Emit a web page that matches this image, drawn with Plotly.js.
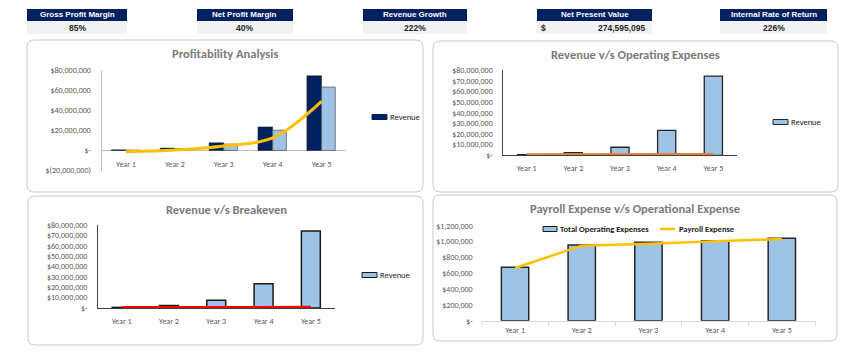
<!DOCTYPE html>
<html><head><meta charset="utf-8">
<script src="https://cdn.plot.ly/plotly-3.0.1.min.js"></script>
<style>html,body{margin:0;padding:0;background:#fff}#chart{width:850px;height:355px}</style>
</head><body><div id="chart"></div>
<script>
// ---- data ----
const years = ['Year 1','Year 2','Year 3','Year 4','Year 5'];
const revenue = [600000, 2400000, 7600000, 23500000, 74500000];
const grossProfit = [400000, 1900000, 6300000, 20200000, 63300000];
const netProfit = [-1300000, 400000, 4500000, 12500000, 49000000];
const operatingExpenses = [675000, 955000, 990000, 1010000, 1042000];
const breakeven = [700000, 800000, 850000, 870000, 900000];
const payrollExpense = [665000, 948000, 972000, 1000000, 1033000];

const kpiLabels = ['Gross Profit Margin','Net Profit Margin','Revenue Growth','Net Present Value','Internal Rate of Return'];
const kpiValues = ['85%','40%','222%','274,595,095','226%'];

const p1TickVals = [-20000000, 0, 20000000, 40000000, 60000000, 80000000];
const p1TickText = ['$(20,000,000)','$-','$20,000,000','$40,000,000','$60,000,000','$80,000,000'];
const p2TickVals = [0,10000000,20000000,30000000,40000000,50000000,60000000,70000000,80000000];
const p2TickText = ['$-','$10,000,000','$20,000,000','$30,000,000','$40,000,000','$50,000,000','$60,000,000','$70,000,000','$80,000,000'];
const p4TickVals = [0,200000,400000,600000,800000,1000000,1200000];
const p4TickText = ['$-','$200,000','$400,000','$600,000','$800,000','$1,000,000','$1,200,000'];

// ---- helpers ----
const W = 850, H = 355;
const X = v => v / W, Y = v => 1 - v / H;
const FONT = "Carlito, Calibri, 'Liberation Sans Narrow', 'Liberation Sans', sans-serif";
const KFONT = "'Liberation Sans', Arial, sans-serif";
const NAVY = '#002060', LBLUE = '#9dc3e6', YEL = '#ffc000';
const TICKC = '#595959';

function rrect(x0, y0, x1, y1, r) {
  return `M${X(x0+r)},${Y(y0)} L${X(x1-r)},${Y(y0)} Q${X(x1)},${Y(y0)} ${X(x1)},${Y(y0+r)} ` +
         `L${X(x1)},${Y(y1-r)} Q${X(x1)},${Y(y1)} ${X(x1-r)},${Y(y1)} L${X(x0+r)},${Y(y1)} ` +
         `Q${X(x0)},${Y(y1)} ${X(x0)},${Y(y1-r)} L${X(x0)},${Y(y0+r)} Q${X(x0)},${Y(y0)} ${X(x0+r)},${Y(y0)} Z`;
}

const traces = [
  // Panel 1
  {type:'bar', x: years, y: revenue, name:'Revenue', xaxis:'x', yaxis:'y', offset:-0.3, width:0.3,
   marker:{color:NAVY, line:{color:'#1f1f1f', width:0.5}}},
  {type:'bar', x: years, y: grossProfit, name:'Gross Profit', xaxis:'x', yaxis:'y', offset:0, width:0.28,
   marker:{color:LBLUE, line:{color:'#595959', width:0.75}}},
  {type:'scatter', mode:'lines', x: years, y: netProfit, name:'Net Profit', xaxis:'x', yaxis:'y',
   line:{color:YEL, width:3, shape:'spline', smoothing:1}},
  // Panel 2
  {type:'bar', x: years, y: revenue, name:'Revenue', xaxis:'x2', yaxis:'y2', offset:-0.195, width:0.39,
   marker:{color:LBLUE, line:{color:'#262626', width:1.3}}},
  {type:'scatter', mode:'lines', x: years, y: operatingExpenses, name:'Operating Expenses', xaxis:'x2', yaxis:'y2',
   line:{color:'#ed7d31', width:2.5}},
  // Panel 3
  {type:'bar', x: years, y: revenue, name:'Revenue', xaxis:'x3', yaxis:'y3', offset:-0.2, width:0.4,
   marker:{color:LBLUE, line:{color:'#1a1a1a', width:1.5}}},
  {type:'scatter', mode:'lines', x: years, y: breakeven, name:'Breakeven', xaxis:'x3', yaxis:'y3',
   line:{color:'#ff0000', width:2.5}},
  // Panel 4
  {type:'bar', x: years, y: operatingExpenses, name:'Total Operating Expenses', xaxis:'x4', yaxis:'y4', offset:-0.205, width:0.41,
   marker:{color:LBLUE, line:{color:'#262626', width:1.5}}},
  {type:'scatter', mode:'lines', x: years, y: payrollExpense, name:'Payroll Expense', xaxis:'x4', yaxis:'y4',
   line:{color:YEL, width:2.5}}
];

const tickFont = {family: FONT, size: 8, color: TICKC};
const baseX = {type:'category', range:[-0.5,4.5], showgrid:false, zeroline:false, ticks:'', tickfont:tickFont, fixedrange:true};
const baseY = {showgrid:false, tickfont:tickFont, ticks:'', fixedrange:true, ticklabelstandoff:8};

const shapes = [];
const annotations = [];

// KPI boxes
const kpiBoxes = [[27,127],[197,293],[363,467],[537,652],[720,827]];
kpiBoxes.forEach(([a,b], i) => {
  shapes.push({type:'rect', xref:'paper', yref:'paper', x0:X(a), x1:X(b), y0:Y(21), y1:Y(9), fillcolor:NAVY, line:{width:0}});
  shapes.push({type:'rect', xref:'paper', yref:'paper', x0:X(a), x1:X(b), y0:Y(34), y1:Y(21), fillcolor:'#f2f2f2', line:{width:0}});
  annotations.push({xref:'paper', yref:'paper', x:X((a+b)/2), y:Y(15), text:'<b>'+kpiLabels[i]+'</b>', showarrow:false,
    xanchor:'center', yanchor:'middle', font:{family:KFONT, size:8, color:'#ffffff'}});
  const vf = {family:KFONT, size:8.5, color:'#262626'};
  if (i === 3) {
    annotations.push({xref:'paper', yref:'paper', x:X(539), y:Y(27.5), text:'<b>$</b>', showarrow:false,
      xanchor:'left', yanchor:'middle', font:vf});
    annotations.push({xref:'paper', yref:'paper', x:X(648), y:Y(27.5), text:'<b>'+kpiValues[i]+'</b>', showarrow:false,
      xanchor:'right', yanchor:'middle', font:vf});
  } else {
    annotations.push({xref:'paper', yref:'paper', x:X((a+b)/2), y:Y(27.5), text:'<b>'+kpiValues[i]+'</b>', showarrow:false,
      xanchor:'center', yanchor:'middle', font:vf});
  }
});

// Panel frames
[[27,40,423,192],[433,41,838,192],[28,196,423,345],[433,195,837,341]].forEach(b => {
  shapes.push({type:'path', xref:'paper', yref:'paper', path: rrect(b[0],b[1],b[2],b[3],7),
    line:{color:'#c9c9c9', width:1}, fillcolor:'rgba(0,0,0,0)', layer:'below'});
});

// Titles
const titleFont = {family: FONT, size: 12.5, color: '#7a7a7a'};
[['Profitability Analysis',225,53],['Revenue v/s Operating Expenses',635,54],
 ['Revenue v/s Breakeven',226,209],['Payroll Expense v/s Operational Expense',635,208]].forEach(t => {
  annotations.push({xref:'paper', yref:'paper', x:X(t[1]), y:Y(t[2]), text:'<b>'+t[0]+'</b>', showarrow:false,
    xanchor:'center', yanchor:'middle', font:titleFont});
});

// Legends (Excel-style swatches)
const legFont = {family: FONT, size: 8.5, color: '#1a1a1a'};
function legendBar(x0, x1, yc, fill, lineCol, label, bold) {
  shapes.push({type:'rect', xref:'paper', yref:'paper', x0:X(x0), x1:X(x1), y0:Y(yc+2.5), y1:Y(yc-2.5),
    fillcolor:fill, line:{color:lineCol, width:1}});
  annotations.push({xref:'paper', yref:'paper', x:X(x1+1), y:Y(yc), text: bold ? '<b>'+label+'</b>' : label, showarrow:false,
    xanchor:'left', yanchor:'middle', font:legFont});
}
function legendLine(x0, x1, yc, col, label, bold) {
  shapes.push({type:'line', xref:'paper', yref:'paper', x0:X(x0), x1:X(x1), y0:Y(yc), y1:Y(yc), line:{color:col, width:2.5}});
  annotations.push({xref:'paper', yref:'paper', x:X(x1+2), y:Y(yc), text: bold ? '<b>'+label+'</b>' : label, showarrow:false,
    xanchor:'left', yanchor:'middle', font:legFont});
}
legendBar(372, 387, 117, NAVY, NAVY, traces[0].name, false);
legendBar(773, 788, 122, LBLUE, '#262626', traces[3].name, false);
legendBar(362, 377, 275, LBLUE, '#1a1a1a', traces[5].name, false);
legendBar(543, 557, 229, LBLUE, '#1a1a1a', traces[7].name, true);
legendLine(660, 675, 229, YEL, traces[8].name, true);

const layout = {
  width: W, height: H, margin:{l:0,r:0,t:0,b:0}, paper_bgcolor:'#ffffff', plot_bgcolor:'rgba(0,0,0,0)',
  barmode:'overlay', showlegend:false, font:{family: FONT},
  // Panel 1
  xaxis: Object.assign({}, baseX, {domain:[X(101.5), X(346)], anchor:'free', position:Y(150.3), showline:false, ticklabelstandoff:8}),
  yaxis: Object.assign({}, baseY, {domain:[Y(170.5), Y(70.3)], range:[-20000000, 80000000], tickvals:p1TickVals, ticktext:p1TickText,
    showline:true, linecolor:'#bfbfbf', linewidth:1, zeroline:true, zerolinecolor:'#bfbfbf', zerolinewidth:1.5, anchor:'x'}),
  // Panel 2
  xaxis2: Object.assign({}, baseX, {domain:[X(503.3), X(736.7)], anchor:'y2', showline:true, linecolor:'#404040', linewidth:1, ticklabelstandoff:5}),
  yaxis2: Object.assign({}, baseY, {domain:[Y(155.3), Y(70.3)], range:[0, 80000000], tickvals:p2TickVals, ticktext:p2TickText,
    showline:true, linecolor:'#404040', linewidth:1, zeroline:false, anchor:'x2'}),
  // Panel 3
  xaxis3: Object.assign({}, baseX, {domain:[X(98), X(334.5)], anchor:'y3', showline:true, linecolor:'#404040', linewidth:1, ticklabelstandoff:5}),
  yaxis3: Object.assign({}, baseY, {domain:[Y(308), Y(225.3)], range:[0, 80000000], tickvals:p2TickVals, ticktext:p2TickText,
    showline:true, linecolor:'#404040', linewidth:1, zeroline:false, anchor:'x3'}),
  // Panel 4
  xaxis4: Object.assign({}, baseX, {domain:[X(481.7), X(815.2)], anchor:'y4', showline:true, linecolor:'#d9d9d9', linewidth:1,
    ticks:'outside', tickson:'boundaries', ticklen:4, tickcolor:'#d9d9d9', ticklabelstandoff:2}),
  yaxis4: Object.assign({}, baseY, {domain:[Y(320.7), Y(225.7)], range:[0, 1200000], tickvals:p4TickVals, ticktext:p4TickText,
    showline:false, zeroline:false, anchor:'x4'}),
  shapes: shapes, annotations: annotations
};

Plotly.newPlot('chart', traces, layout, {displayModeBar:false, staticPlot:true});
</script>
</body></html>
